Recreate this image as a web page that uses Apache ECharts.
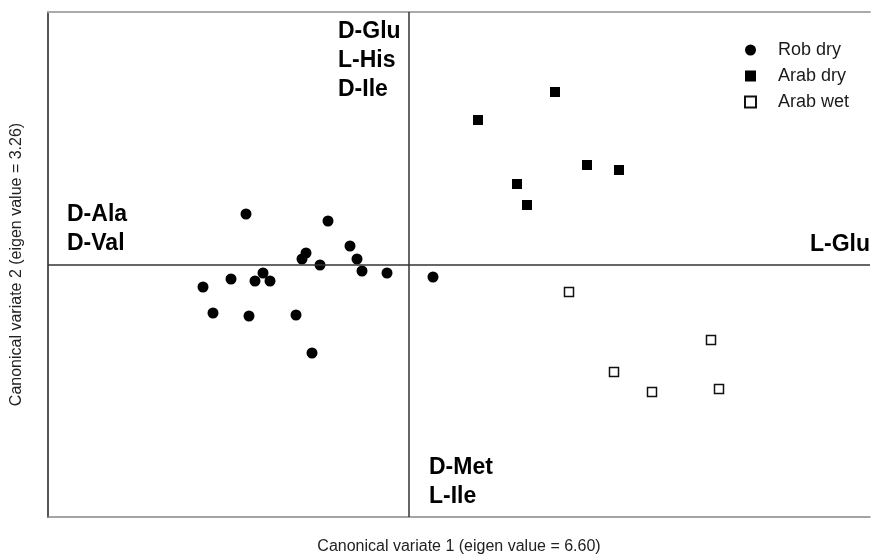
<!DOCTYPE html>
<html><head><meta charset="utf-8">
<script src="https://cdn.jsdelivr.net/npm/echarts@6/dist/echarts.min.js"></script>
<style>html,body{margin:0;padding:0;background:#fff}#c{width:873px;height:554px}</style>
</head><body><div id="c"></div>
<script>
// Canonical variate scores [cv1, cv2]
const robDry = [[-1.63,0.51],[-0.81,0.44],[-0.59,0.19],[-0.52,0.06],[-0.47,-0.06],[-0.22,-0.08],
  [-1.03,0.12],[-1.07,0.06],[-0.89,0.00],[-1.46,-0.08],[-1.54,-0.16],[-1.39,-0.16],[-1.78,-0.14],
  [-2.06,-0.22],[-1.96,-0.48],[-1.60,-0.51],[-1.13,-0.50],[-0.97,-0.88],[0.24,-0.12]];
const arabDry = [[1.46,1.73],[0.69,1.45],[1.78,1.00],[2.10,0.95],[1.08,0.81],[1.18,0.60]];
const arabWet = [[1.60,-0.27],[3.02,-0.75],[2.05,-1.07],[2.43,-1.27],[3.10,-1.24]];
const seriesNames = ['Rob dry','Arab dry','Arab wet'];
// Loading labels (text, anchor in data coords)
const loadingText = ['D-Glu\nL-His\nD-Ile','D-Ala\nD-Val','L-Glu','D-Met\nL-Ile'];
const loadingPos = [[-0.71,2.04],[-3.42,0.36],[4.01,0.20],[0.20,-2.175]];
const xTitle = 'Canonical variate 1 (eigen value = 6.60)';
const yTitle = 'Canonical variate 2 (eigen value = 3.26)';
const xRange = [-3.61, 4.61];
const yRange = [-2.52, 2.53];

const chart = echarts.init(document.getElementById('c'), null, {renderer:'canvas'});
const font = 'Liberation Sans, Arial, sans-serif';
chart.setOption({
  animation: false,
  backgroundColor: '#fff',
  grid: {left: 48, right: 3, top: 12, bottom: 37, show: false, containLabel: false, outerBoundsMode: 'none'},
  legend: {
    orient: 'vertical', left: 739, top: 36, itemWidth: 11, itemHeight: 11, itemGap: 8,
    data: seriesNames,
    textStyle: {fontFamily: font, fontSize: 18, color: '#1a1a1a', padding: [0,0,0,17]}
  },
  xAxis: [{
    type: 'value', min: xRange[0], max: xRange[1], position: 'bottom',
    name: xTitle, nameLocation: 'middle', nameGap: 22,
    nameTextStyle: {fontFamily: font, fontSize: 16, color: '#222'},
    axisLine: {show: true, onZero: false, lineStyle: {color: '#888', width: 1.5}},
    axisTick: {show: false}, axisLabel: {show: false}, splitLine: {show: false}
  },{
    type: 'value', min: xRange[0], max: xRange[1], position: 'top',
    axisLine: {show: true, onZero: false, lineStyle: {color: '#aaa', width: 2}},
    axisTick: {show: false}, axisLabel: {show: false}, splitLine: {show: false}
  }],
  yAxis: {
    type: 'value', min: yRange[0], max: yRange[1],
    name: yTitle, nameLocation: 'middle', nameGap: 23, nameRotate: 90,
    nameTextStyle: {fontFamily: font, fontSize: 16, color: '#222'},
    axisLine: {show: true, onZero: false, lineStyle: {color: '#555', width: 2}},
    axisTick: {show: false}, axisLabel: {show: false}, splitLine: {show: false}
  },
  series: [
    {name: seriesNames[0], type: 'scatter', symbol: 'circle', symbolSize: 11, data: robDry,
     itemStyle: {color: '#000', opacity: 1},
     markLine: {silent: true, symbol: 'none', label: {show: false}, animation: false,
       lineStyle: {color: '#333', type: 'solid', width: 1.5, opacity: 1},
       data: [{xAxis: 0}, {yAxis: 0}]}},
    {name: seriesNames[1], type: 'scatter', symbol: 'rect', symbolSize: 10, data: arabDry,
     itemStyle: {color: '#000', opacity: 1}},
    {name: seriesNames[2], type: 'scatter', symbol: 'rect', symbolSize: 9, data: arabWet,
     itemStyle: {color: '#fff', borderColor: '#111', borderWidth: 1.5, opacity: 1}},
    {name: 'labels', type: 'scatter', symbolSize: 0, silent: true,
     itemStyle: {opacity: 1},
     data: loadingPos.map((p, i) => ({value: p, name: loadingText[i]})),
     label: {show: true, position: 'right', distance: 0, formatter: p => p.name, opacity: 1,
       fontFamily: font, fontWeight: 'bold', fontSize: 23, color: '#000', lineHeight: 29}}
  ]
});
</script></body></html>
